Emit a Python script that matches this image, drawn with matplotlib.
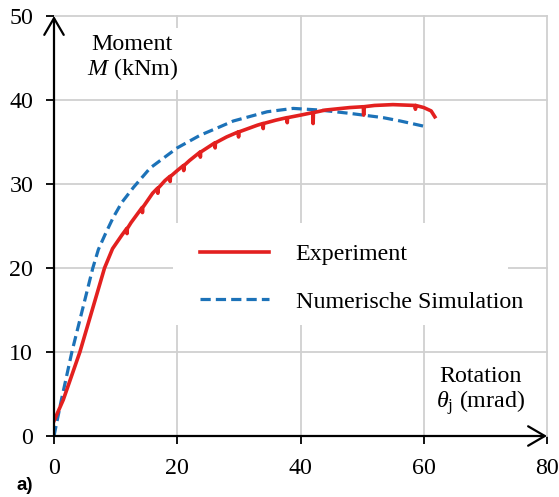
import matplotlib
matplotlib.use('Agg')
import matplotlib.pyplot as plt
from matplotlib.patches import Rectangle

plt.rcParams['font.family'] = ['Liberation Serif', 'DejaVu Serif']
plt.rcParams['mathtext.fontset'] = 'custom'
plt.rcParams['mathtext.rm'] = 'Liberation Serif'
plt.rcParams['mathtext.it'] = 'Liberation Serif:italic'

# Experiment (rotation in mrad, moment in kNm), incl. the small relaxation drops
exp_x = [0, 1.5, 4.2, 6.2, 8.2, 9.5, 11, 11.8, 11.85, 11.9, 12.5, 14, 14.3, 14.35, 14.4,
         16, 16.8, 16.85, 16.9, 18, 18.8, 18.85, 18.9, 20, 21.0, 21.05, 21.1, 22,
         23.7, 23.75, 23.8, 26.1, 26.15, 26.2, 28, 29.9, 29.95, 30, 33, 33.9, 33.95,
         34, 36, 37.8, 37.85, 37.9, 40, 42.0, 42.05, 42.1, 44, 48, 50.2, 50.25, 50.3,
         52, 55, 58.6, 58.65, 58.7, 60, 61.2, 61.8]
exp_y = [1.8, 4.3, 10, 15, 20, 22.3, 23.9, 24.7, 24.1, 24.7, 25.4, 26.9, 27.2, 26.6, 27.2,
         28.9, 29.5, 28.9, 29.5, 30.4, 30.9, 30.3, 30.9, 31.6, 32.2, 31.6, 32.2, 32.8,
         33.8, 33.2, 33.8, 34.9, 34.3, 34.9, 35.6, 36.2, 35.6, 36.2, 37.0, 37.2, 36.6,
         37.2, 37.6, 37.9, 37.3, 37.9, 38.2, 38.5, 37.2, 38.5, 38.8, 39.1, 39.2, 38.2, 39.2,
         39.35, 39.45, 39.35, 38.9, 39.35, 39.1, 38.7, 38.0]

# Numerische Simulation
sim_x = [0, 1.2, 2.9, 4.6, 6.3, 7.2, 8.3, 9.6, 11, 12.9, 15.6, 20, 23.7, 26.9, 29.1, 34.6,
         38.8, 43.2, 48.1, 53.4, 56.2, 60.5]
sim_y = [0, 4.3, 10, 15, 20, 22.2, 24.0, 26.0, 27.8, 29.6, 31.9, 34.3, 35.8, 36.8, 37.5, 38.6,
         39.0, 38.8, 38.4, 37.9, 37.5, 36.8]

x_ticks = [0, 20, 40, 60, 80]
y_ticks = [0, 10, 20, 30, 40, 50]

fig = plt.figure(figsize=(5.59, 4.97), dpi=100)
ax = fig.add_axes([54 / 559, 61 / 497, 493 / 559, 420 / 497])

ax.set_xlim(0, 80)
ax.set_ylim(0, 50)
ax.set_xticks(x_ticks)
ax.set_yticks(y_ticks)
ax.tick_params(labelsize=17.3, length=6, width=1.3, direction='out', color='black')
ax.tick_params(axis='y', pad=9)
ax.tick_params(axis='x', pad=9.5)
for s in ax.spines.values():
    s.set_visible(False)

ax.set_axisbelow(True)
ax.grid(True, color='#d0d0d0', linewidth=1.3)
for gl in ax.get_xgridlines() + ax.get_ygridlines():
    gl.set_clip_on(False)

# white legend area hides the grid
ax.add_patch(Rectangle((0.241, 0.264), 0.68, 0.243, transform=ax.transAxes,
                       facecolor='white', edgecolor='none', zorder=1))

ax.plot(sim_x, sim_y, color='#1c72b8', linewidth=2.3, linestyle=(0, (3.2, 1.6)),
        label='Numerische Simulation', zorder=3)
ax.plot(exp_x, exp_y, color='#e3201f', linewidth=2.6, label='Experiment', zorder=4)

# axis arrows
arrow = dict(arrowstyle='->,head_length=0.6,head_width=0.35', lw=1.6, color='black',
             shrinkA=0, shrinkB=0, mutation_scale=20)
ax.annotate('', xy=(0, 50), xytext=(0, 0), arrowprops=arrow, annotation_clip=False, zorder=5)
ax.annotate('', xy=(80, 0), xytext=(0, 0), arrowprops=arrow, annotation_clip=False, zorder=5)

ax.text(12.7, 45, 'Moment\n$M$ (kNm)', ha='center', va='center', fontsize=17.3,
        linespacing=1.05, bbox=dict(facecolor='white', edgecolor='none', pad=6), zorder=2)
ax.text(69.2, 5.3, 'Rotation\n$\\theta_\\mathrm{j}$ (mrad)', ha='center', va='center',
        fontsize=17.3, linespacing=1.1)

handles, labels = ax.get_legend_handles_labels()
leg = ax.legend(handles[::-1], labels[::-1], loc='upper left', bbox_to_anchor=(0.227, 0.538),
                frameon=False, fontsize=17.3, handlelength=2.9, handletextpad=1.1,
                labelspacing=1.05, borderpad=0.9)

fig.text(0.030, 0.024, 'a)', family='Liberation Sans', fontweight='bold', fontsize=13.5,
         ha='left', va='center')

fig.savefig('out.png', dpi=100)
